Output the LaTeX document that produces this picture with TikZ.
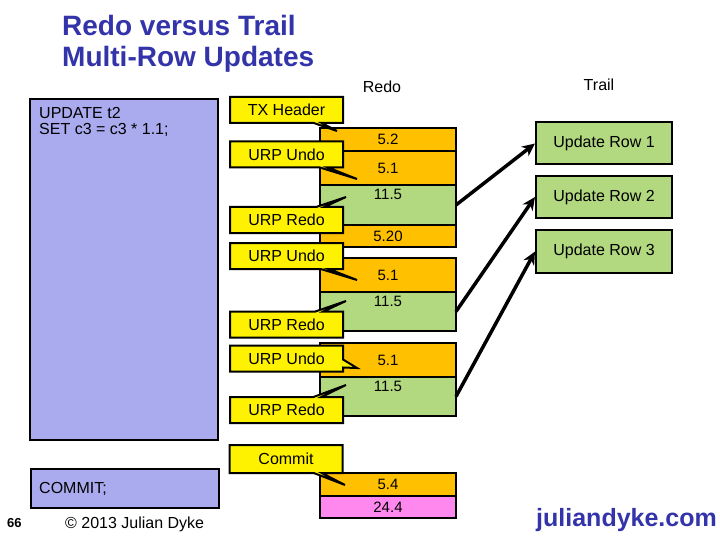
\documentclass[tikz,border=0pt]{standalone}
\usepackage{fontspec}
\setmainfont{Liberation Sans}
\usetikzlibrary{shapes.callouts,arrows.meta}
\definecolor{redoorange}{RGB}{255,192,0}
\definecolor{redogreen}{RGB}{178,216,128}
\definecolor{commitpink}{RGB}{255,136,238}
\definecolor{stmtblue}{RGB}{170,170,238}
\definecolor{titleblue}{RGB}{51,51,170}
\begin{document}
\begin{tikzpicture}[x=1pt,y=-1pt,
  txt/.style={inner sep=0pt, font=\fontsize{16}{16}\selectfont},
  stmt/.style={draw, fill=stmtblue, line width=2pt, minimum width=188pt},
  cell/.style={draw, line width=2pt, minimum width=136pt, anchor=north west, inner sep=0pt, outer sep=0pt, font=\fontsize{15}{15}\selectfont},
  undocell/.style={cell, fill=redoorange},
  redocell/.style={cell, fill=redogreen, text height=11pt, text depth=21pt},
  commitcell/.style={cell, fill=commitpink},
  urp/.style={rectangle callout, draw, fill=yellow, line width=2pt, minimum width=113pt, minimum height=26pt, inner sep=0pt, callout pointer width=8pt, font=\fontsize{16}{16}\selectfont},
  trailbox/.style={draw, fill=redogreen, line width=2pt, minimum width=136pt, minimum height=42pt, font=\fontsize{16}{16}\selectfont},
  feed/.style={->, >={Stealth[length=13pt,width=12pt]}, line width=3.5pt}]
\useasboundingbox (0,0) rectangle (720,540);
\node[anchor=base west, inner sep=0pt, text=titleblue, font=\fontsize{28}{28}\selectfont\bfseries] (title1) at (62,36) {Redo versus Trail};
\node[anchor=base west, inner sep=0pt, text=titleblue, font=\fontsize{28}{28}\selectfont\bfseries] (title2) at (62,67) {Multi-Row Updates};
\node[txt] (redohd) at (382,87) {Redo};
\node[txt] (trailhd) at (599,85) {Trail};
\node[stmt, minimum height=341pt] (update) at (124,269.5) {};
\node[txt, anchor=base west] (sql1) at (39,119) {UPDATE t2};
\node[txt, anchor=base west] (sql2) at (39,135) {SET c3 = c3 * 1.1;};
\node[stmt, minimum height=39pt] (commit) at (124.5,488.5) {};
\node[txt, anchor=west] (sql3) at (39,489) {COMMIT;};
\node[undocell, minimum height=23pt] (a1) at (320,128) {5.2};
\node[undocell, minimum height=34pt] (a2) at (320,151) {5.1};
\node[redocell, minimum height=40pt] (a3) at (320,185) {11.5};
\node[undocell, minimum height=22pt] (a4) at (320,225) {5.20};
\node[undocell, minimum height=34pt] (b1) at (320,258) {5.1};
\node[redocell, minimum height=39pt] (b2) at (320,292) {11.5};
\node[undocell, minimum height=34pt] (c1) at (320,343) {5.1};
\node[redocell, minimum height=39pt] (c2) at (320,377) {11.5};
\node[undocell, minimum height=23pt] (d1) at (320,473) {5.4};
\node[commitcell, minimum height=22pt] (d2) at (320,496) {24.4};
\node[urp, callout absolute pointer={(337,131)}] (txhdr) at (286.5,110) {TX Header};
\node[urp, callout absolute pointer={(357,179)}] (undo1) at (286.5,154.5) {URP Undo};
\node[urp, callout absolute pointer={(346,197)}] (redo1) at (286.5,220) {URP Redo};
\node[urp, callout absolute pointer={(357,280)}] (undo2) at (286.5,256) {URP Undo};
\node[urp, callout absolute pointer={(346,301)}] (redo2) at (286.5,324.5) {URP Redo};
\node[urp, callout absolute pointer={(357,368)}] (undo3) at (286.5,358.5) {URP Undo};
\node[urp, callout absolute pointer={(346,385)}] (redo3) at (286.5,410) {URP Redo};
\node[urp, minimum height=28pt, callout absolute pointer={(345,485)}] (cmt) at (286,459) {Commit};
\node[trailbox] (row1) at (604,143.5) {Update Row 1};
\node[trailbox] (row2) at (604,197) {Update Row 2};
\node[trailbox] (row3) at (604,251.5) {Update Row 3};
\draw[feed] (a3.east) -- (row1.west);
\draw[feed] (b2.east) -- (row2.west);
\draw[feed] (c2.east) -- (row3.west);
\node[anchor=base west, inner sep=0pt, font=\fontsize{13}{13}\selectfont\bfseries] (page) at (7,527) {66};
\node[txt, anchor=base west] (copy) at (65,528) {© 2013 Julian Dyke};
\node[anchor=base west, inner sep=0pt, text=titleblue, font=\fontsize{25}{25}\selectfont\bfseries] (site) at (536,526) {juliandyke.com};
\end{tikzpicture}
\end{document}
